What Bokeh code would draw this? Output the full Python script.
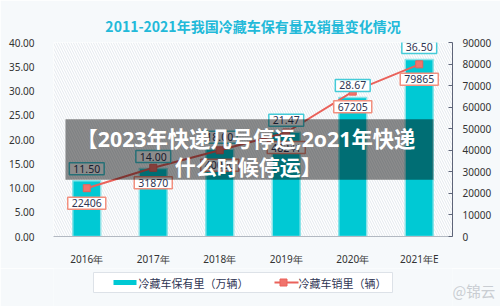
from bokeh.plotting import figure
from bokeh.layouts import column
from bokeh.models import (Range1d, LinearAxis, FactorRange, FixedTicker, NumeralTickFormatter,
                          BoxAnnotation, Label, ColumnDataSource)
from bokeh.embed import file_html
from bokeh.resources import INLINE
from bokeh.core.properties import value

years = ["2016年", "2017年", "2018年", "2019年", "2020年", "2021年E"]
stock = [11.50, 14.00, 18.00, 21.47, 28.67, 36.50]          # 冷藏车保有量（万辆）
sales = [22406, 31870, 40000, 48241, 67205, 79865]          # 冷藏车销量（辆）
left_ticks = [0, 5, 10, 15, 20, 25, 30, 35, 40]
right_ticks = [0, 10000, 20000, 30000, 40000, 50000, 60000, 70000, 80000, 90000]
title_text = "2011-2021年我国冷藏车保有量及销量变化情况"
banner_lines = ["【2023年快递几号停运,2o21年快递", "什么时候停运】"]
legend_labels = ["冷藏车保有里（万辆）", "冷藏车销里（辆）"]
watermark = "@锦云"

BAR = "#00c9d4"
RED = "#ea625b"
NAVY = "#2f3654"
FONT = "Noto Sans"
CJK = "Noto Sans CJK SC"
MIX = "Open Sans, Noto Sans CJK SC"
BG = "#f6f9fb"

src = ColumnDataSource(dict(
    year=years, stock=stock, sales=sales,
    stock_txt=[f"{v:.2f}" for v in stock],
    sales_txt=[str(v) for v in sales],
))

p = figure(width=500, height=268, x_range=FactorRange(factors=years),
           y_range=Range1d(0, 40), output_backend="svg", toolbar_location=None,
           min_border_left=53, min_border_right=48, min_border_top=42, min_border_bottom=27)
p.extra_y_ranges = {"sales": Range1d(0, 90000)}
p.background_fill_color = "white"
p.border_fill_color = BG
p.outline_line_color = None
p.xgrid.visible = False
p.ygrid.visible = False

p.title.text = title_text
p.title.align = "center"
p.title.text_font = CJK
p.title.text_font_size = "14px"
p.title.text_font_style = "bold"
p.title.text_color = "#22b9d9"
p.title.standoff = 14

# hatched plot background
p.add_layout(BoxAnnotation(fill_alpha=0, line_color=None, hatch_pattern="\\",
                           hatch_color="#dde3ea", hatch_scale=5, hatch_weight=0.8,
                           level="underlay"))

bars = p.vbar(x="year", top="stock", width=0.42, source=src, fill_color=BAR,
              line_color="#8ae3e8", line_width=1.5)
line = p.line(x="year", y="sales", source=src, y_range_name="sales",
              line_color=RED, line_width=2)
marks = p.scatter(x="year", y="sales", source=src, y_range_name="sales", marker="square",
                  size=7, fill_color="#f0736c", line_color=RED)

p.text(x="year", y="stock", text="stock_txt", source=src, y_offset=-12,
       text_align="center", text_baseline="middle", text_font=value(FONT),
       text_font_size="10.5px", text_color=NAVY, background_fill_color="white",
       border_line_color="#45cbd8", border_line_width=1.5, padding=[4, 2])
p.text(x="year", y="sales", text="sales_txt", source=src, y_range_name="sales", y_offset=15,
       text_align="center", text_baseline="middle", text_font=value(FONT),
       text_font_size="10.5px", text_color=NAVY, background_fill_color="white",
       border_line_color="#f2907f", border_line_width=1.5, padding=[4, 2])

# axes
p.xaxis.axis_line_color = "#b3b9c2"
p.xaxis.major_tick_line_color = None
p.xaxis.minor_tick_line_color = None
p.xaxis.major_label_text_font = FONT
p.xaxis.major_label_text_font_size = "10px"
p.xaxis.major_label_text_color = "#333333"
p.xaxis.major_label_standoff = 9

ly = p.yaxis[0]
ly.ticker = FixedTicker(ticks=left_ticks)
ly.formatter = NumeralTickFormatter(format="0.00")
ly.axis_line_color = None
ly.major_tick_line_color = None
ly.minor_tick_line_color = None
ly.major_label_text_font = FONT
ly.major_label_text_font_size = "10px"
ly.major_label_text_color = "#333333"
ly.major_label_standoff = 13

ry = LinearAxis(y_range_name="sales", ticker=FixedTicker(ticks=right_ticks),
                formatter=NumeralTickFormatter(format="0"))
ry.axis_line_color = "#5d6478"
ry.major_tick_line_color = "#5d6478"
ry.major_tick_in = 4
ry.major_tick_out = 0
ry.minor_tick_line_color = None
ry.major_label_text_font = FONT
ry.major_label_text_font_size = "10px"
ry.major_label_text_color = "#333333"
ry.major_label_standoff = 10
p.add_layout(ry, "right")

# overlay banner
p.add_layout(BoxAnnotation(left=0.18, right=5.714, bottom=11.7, top=24.2,
                           fill_color="black", fill_alpha=0.45, line_color=None))
p.add_layout(Label(x=0.346, y=20.15, text=banner_lines[0], text_align="left",
                   text_baseline="middle", text_font=MIX, text_font_size="21.3px",
                   text_font_style="bold", text_color="white"))
p.add_layout(Label(x=1.825, y=14.3, text=banner_lines[1], text_align="left",
                   text_baseline="middle", text_font=MIX, text_font_size="21px",
                   text_font_style="bold", text_color="white"))

# legend strip: its frame is aligned with the chart frame (x 53..452 px),
# so the x range is set to page pixels; y is measured upward from the strip bottom
lg = figure(width=500, height=38, x_range=Range1d(53, 452), y_range=Range1d(0, 38),
            output_backend="svg", toolbar_location=None, min_border=0,
            x_axis_location=None, y_axis_location=None)
lg.xgrid.visible = False
lg.ygrid.visible = False
lg.outline_line_color = None
lg.background_fill_color = BG
lg.border_fill_color = BG

lg.quad(left=[93], right=[392], bottom=[14], top=[34], fill_color="white",
        line_color="#dde2e8", line_width=1)
lg.quad(left=[113], right=[136], bottom=[21.5], top=[26.5], fill_color=BAR, line_color=None)
lg.text(x=[138], y=[24], text=[legend_labels[0]], text_baseline="middle",
        text_font=value(CJK), text_font_size="11px", text_color=NAVY)
lg.line(x=[274, 298], y=[24, 24], line_color=RED, line_width=2)
lg.scatter(x=[283], y=[24], marker="square", size=7, fill_color="#f0736c", line_color=RED)
lg.text(x=[298], y=[24], text=[legend_labels[1]], text_baseline="middle",
        text_font=value(CJK), text_font_size="11px", text_color=NAVY)

wm = LinearAxis(ticker=FixedTicker(ticks=[16]), major_label_overrides={16: watermark})
wm.axis_line_color = None
wm.major_tick_line_color = None
wm.minor_tick_line_color = None
wm.major_label_standoff = -6
wm.major_label_text_font = CJK
wm.major_label_text_font_size = "14.5px"
wm.major_label_text_color = "#c9cdd2"
lg.add_layout(wm, "right")

open("out.html", "w").write(file_html(column(p, lg, spacing=0), INLINE))
